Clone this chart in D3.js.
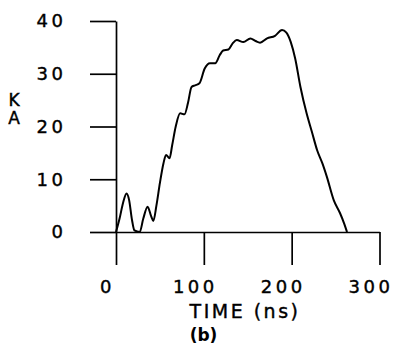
<!DOCTYPE html>
<html>
<head>
<meta charset="utf-8">
<script src="https://cdn.jsdelivr.net/npm/d3@7"></script>
<style>
  body { margin: 0; background: #fff; }
  svg text { font-family: "DejaVu Sans", sans-serif; fill: #000; }
</style>
</head>
<body>
<div id="chart-area"></div>
<script>
// current trace
var timeNs = [0, 4, 8, 12, 15, 18, 21, 27, 31, 36, 40, 42.5, 46, 50, 54, 57, 61, 64, 68, 73,
  78, 82, 86, 90, 95, 101, 107, 113, 118, 122, 128, 133, 137.5, 145, 153, 159, 164, 172,
  181, 189, 194, 199, 204, 210, 217, 223, 229, 235, 240, 248, 255, 260, 263];
var currentKA = [0, 2.5, 5.5, 7.3, 6, 2.5, 0.3, 0, 2.5, 4.8, 3, 2.1, 5, 9.3, 13, 14.6, 14, 16.5, 20, 22.5,
  22.3, 24.5, 27.5, 27.8, 28.2, 31, 32, 32, 33.5, 34.4, 34.6, 35.8, 36.4, 36, 36.7, 36.2, 35.9, 36.7,
  37.2, 38.3, 37.8, 36, 32.9, 27.5, 22.5, 19, 15.5, 13, 10.5, 6, 3.6, 1.5, 0];
var xTicks = [0, 100, 200, 300];
var yTicks = [0, 10, 20, 30, 40];

var svg = d3.select("#chart-area").append("svg")
    .attr("width", 393)
    .attr("height", 347);

var x = d3.scaleLinear().domain([0, 300]).range([116, 379.5]);
var y = d3.scaleLinear().domain([0, 40]).range([232, 21]);

// y axis, ticks pointing left
var yAxis = svg.append("g")
    .attr("transform", "translate(116,0)")
    .call(d3.axisLeft(y).tickValues(yTicks).tickSize(26).tickSizeOuter(0).tickPadding(23.5));

// x axis, ticks pointing down
var xAxis = svg.append("g")
    .attr("transform", "translate(0,232)")
    .call(d3.axisBottom(x).tickValues(xTicks).tickSize(33).tickSizeOuter(0).tickPadding(15));

svg.selectAll(".domain, .tick line")
    .attr("stroke", "#000")
    .attr("stroke-width", 1.7);

svg.selectAll(".tick text")
    .attr("font-family", "DejaVu Sans")
    .attr("font-size", 18)
    .attr("letter-spacing", 3.5)
    .attr("fill", "#000")
    .attr("stroke", "#000")
    .attr("stroke-width", 0.4);

xAxis.selectAll(".tick text").attr("x", -9);

var line = d3.line()
    .x(function(d, i) { return x(timeNs[i]); })
    .y(function(d) { return y(d); })
    .curve(d3.curveMonotoneX);

svg.append("path")
    .datum(currentKA)
    .attr("d", line)
    .attr("fill", "none")
    .attr("stroke", "#000")
    .attr("stroke-width", 2)
    .attr("stroke-linejoin", "round");

// labels
svg.append("text")
    .attr("x", 14)
    .attr("y", 105.5)
    .attr("text-anchor", "middle")
    .attr("font-size", 17)
    .attr("stroke", "#000")
    .attr("stroke-width", 0.4)
    .text("K");

svg.append("text")
    .attr("x", 14)
    .attr("y", 123.5)
    .attr("text-anchor", "middle")
    .attr("font-size", 17)
    .attr("stroke", "#000")
    .attr("stroke-width", 0.4)
    .text("A");

svg.append("text")
    .attr("x", 245)
    .attr("y", 318)
    .attr("text-anchor", "middle")
    .attr("font-family", "DejaVu Sans Mono")
    .attr("font-size", 19)
    .attr("letter-spacing", 2.5)
    .attr("stroke", "#000")
    .attr("stroke-width", 0.4)
    .text("TIME (ns)");

svg.append("text")
    .attr("x", 203.5)
    .attr("y", 340.5)
    .attr("text-anchor", "middle")
    .attr("font-weight", "bold")
    .attr("font-size", 17)
    .text("(b)");
</script>
</body>
</html>
